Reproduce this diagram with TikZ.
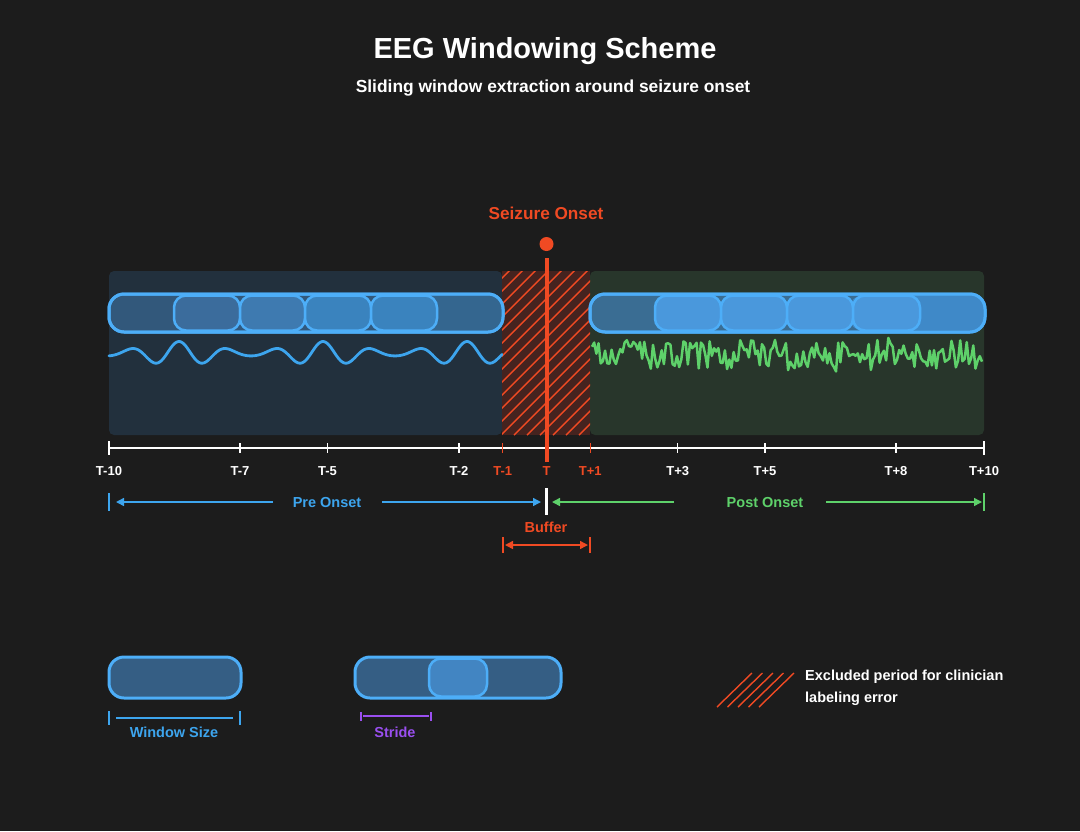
\documentclass[tikz,border=0pt]{standalone}
\usepackage{fontspec}
\setmainfont{Liberation Sans}
\usetikzlibrary{arrows.meta}
\definecolor{bg}{HTML}{1C1C1C}
\definecolor{onset}{HTML}{F04A23}
\definecolor{wblue}{HTML}{4DAEF8}
\definecolor{tblue}{HTML}{3DA5EE}
\definecolor{tgreen}{HTML}{5ED16A}
\definecolor{tpurple}{HTML}{9A4FF0}
\definecolor{prebg}{HTML}{22303D}
\definecolor{postbg}{HTML}{28362B}
\definecolor{bufbg}{HTML}{45231F}
\definecolor{winA}{HTML}{32587B}
\definecolor{winB}{HTML}{3B6C9C}
\definecolor{winC}{HTML}{3E7AB0}
\definecolor{winD}{HTML}{3A83BE}
\definecolor{winE}{HTML}{34668F}
\definecolor{pwA}{HTML}{3A6D93}
\definecolor{pwB}{HTML}{4A98DC}
\definecolor{pwC}{HTML}{3F89C8}
\definecolor{legwin}{HTML}{355E84}
\definecolor{legin}{HTML}{4285C2}
\tikzset{
  txt/.style={font=\bfseries\fontsize{14.5}{17}\selectfont, inner sep=0pt},
  ticklbl/.style={font=\bfseries\fontsize{13}{15}\selectfont, inner sep=0pt, text=white},
  winstrip/.style={draw=wblue, line width=3pt, rounded corners=15pt},
  wininner/.style={draw=wblue, line width=2.5pt, rounded corners=12pt},
  region/.style={rounded corners=5pt},
  hatch/.style={draw=onset, line width=1.4pt},
  tipb/.style={-{Triangle[length=8pt,width=8pt]}},
}
\begin{document}
\begin{tikzpicture}[x=1pt,y=-1pt]
\fill[bg] (0,0) rectangle (1080,831);
\useasboundingbox (0,0) rectangle (1080,831);

% titles
\node[font=\bfseries\fontsize{29}{33}\selectfont, text=white, inner sep=0pt] (title) at (545,51) {EEG Windowing Scheme};
\node[font=\bfseries\fontsize{17.4}{20}\selectfont, text=white, inner sep=0pt] (subtitle) at (553,88) {Sliding window extraction around seizure onset};

% regions
\fill[prebg, region] (109,271) rectangle (502,435);
\fill[postbg, region] (590,271) rectangle (984,435);
\fill[bufbg] (502,271) rectangle (590,435);
\begin{scope}
  \clip (502,271) rectangle (590,435);
  \foreach \i in {0,...,20} {
    \draw[hatch] (502-170+\i*13,435) -- ++(172,-172);
  }
\end{scope}

% EEG signals
\draw[tblue, line width=2.8pt, line cap=round] plot[samples=300, domain=109:502, smooth]
  (\x, {353.5-12*cos(3*(\x-179)*2.5)*(0.6+0.4*cos((\x-179)*2.5))});
\pgfmathsetseed{4217}
\draw[tgreen, line width=2.5pt, line join=round] plot[samples=180, domain=592:982]
  (\x, {355+15*rand+8*pow(rand,3)});

% pre-onset window strip
\draw[winstrip, fill=winA] (109,294) rectangle (503,332);
\fill[winE, rounded corners=12pt] (420,295.5) rectangle (501.5,330.5);
\draw[wininner, fill=winB] (174,295.5) rectangle (240,330.5);
\draw[wininner, fill=winC] (240,295.5) rectangle (305,330.5);
\draw[wininner, fill=winD] (305,295.5) rectangle (371,330.5);
\draw[wininner, fill=winD] (371,295.5) rectangle (437,330.5);
\draw[winstrip] (109,294) rectangle (503,332);

% post-onset window strip
\draw[winstrip, fill=pwA] (590,294) rectangle (985,332);
\fill[pwC, rounded corners=12pt] (850,295.5) rectangle (983.5,330.5);
\draw[wininner, fill=pwB] (655,295.5) rectangle (721,330.5);
\draw[wininner, fill=pwB] (721,295.5) rectangle (787,330.5);
\draw[wininner, fill=pwB] (787,295.5) rectangle (853,330.5);
\draw[wininner, fill=pwB] (853,295.5) rectangle (920,330.5);
\draw[winstrip] (590,294) rectangle (985,332);

% axis
\draw[white, line width=2pt] (109,448) -- (984,448);
\foreach \xx in {109,984} \draw[white, line width=2pt] (\xx,441) -- (\xx,455);
\foreach \xx in {240,327.5,459,677.75,765,896} \draw[white, line width=1.2pt] (\xx,443) -- (\xx,453);
\foreach \xx in {502.75,590.25} \draw[onset, line width=1.2pt] (\xx,443) -- (\xx,453);

% onset marker
\draw[onset, line width=4pt] (546.5,258) -- (546.5,462);
\fill[onset] (546.5,244) circle (7);
\node[font=\bfseries\fontsize{17.2}{20}\selectfont, text=onset, inner sep=0pt] (onsetlbl) at (546,213) {Seizure Onset};

% tick labels
\node[ticklbl] (l1) at (109,471) {T-10};
\node[ticklbl] (l2) at (240,471) {T-7};
\node[ticklbl] (l3) at (327.5,471) {T-5};
\node[ticklbl] (l4) at (459,471) {T-2};
\node[ticklbl, text=onset] (l5) at (502.75,471) {T-1};
\node[ticklbl, text=onset] (l6) at (546.5,471) {T};
\node[ticklbl, text=onset] (l7) at (590.25,471) {T+1};
\node[ticklbl] (l8) at (677.75,471) {T+3};
\node[ticklbl] (l9) at (765,471) {T+5};
\node[ticklbl] (l10) at (896,471) {T+8};
\node[ticklbl] (l11) at (984,471) {T+10};

% span arrows
\coordinate (preL) at (116,502);
\coordinate (preR) at (541,502);
\coordinate (postL) at (552,502);
\coordinate (postR) at (982,502);
\node[txt, text=tblue] (pre) at (327,502) {Pre Onset};
\node[txt, text=tgreen] (post) at (765,502) {Post Onset};
\draw[tblue, line width=1.5pt, tipb] (273,502) -- (preL);
\draw[tblue, line width=1.5pt, tipb] (382,502) -- (preR);
\draw[tgreen, line width=1.5pt, tipb] (674,502) -- (postL);
\draw[tgreen, line width=1.5pt, tipb] (826,502) -- (postR);
\draw[tblue, line width=2pt] (109,493) -- (109,511);
\draw[tgreen, line width=2pt] (984,493) -- (984,511);
\draw[white, line width=3.5pt] (546.5,488) -- (546.5,515);

% buffer
\node[txt, text=onset] (buffer) at (546,527) {Buffer};
\coordinate (bufL) at (503,545);
\coordinate (bufR) at (590,545);
\draw[onset, line width=1.5pt, {Triangle[length=8pt,width=8pt]}-{Triangle[length=8pt,width=8pt]}] ([xshift=2pt]bufL) -- ([xshift=-2pt]bufR);
\draw[onset, line width=2pt] (503,537) -- (503,553);
\draw[onset, line width=2pt] (590,537) -- (590,553);

% legend: window size
\draw[winstrip, fill=legwin] (109,657) rectangle (241,698);
\draw[tblue, line width=2pt] (109,711) -- (109,725);
\draw[tblue, line width=2pt] (240,711) -- (240,725);
\draw[tblue, line width=2pt] (116,718) -- (233,718);
\node[txt, text=tblue] (wsize) at (174,732) {Window Size};

% legend: stride
\draw[winstrip, fill=legwin] (355,657) rectangle (561,698);
\draw[wininner, fill=legin] (429,658.5) rectangle (487,696.5);
\draw[tpurple, line width=2pt] (361,712) -- (361,721);
\draw[tpurple, line width=2pt] (431,712) -- (431,721);
\draw[tpurple, line width=2pt] (363,716) -- (429,716);
\node[txt, text=tpurple] (stride) at (395,732) {Stride};

% legend: excluded
\foreach \k in {0,...,4} \draw[hatch] (717+10.5*\k,707) -- ++(35,-34);
\node[txt, text=white, anchor=west] (excl1) at (805,677) {Excluded period for clinician};
\node[txt, text=white, anchor=west] (excl2) at (805,699) {labeling error};
\end{tikzpicture}
\end{document}
